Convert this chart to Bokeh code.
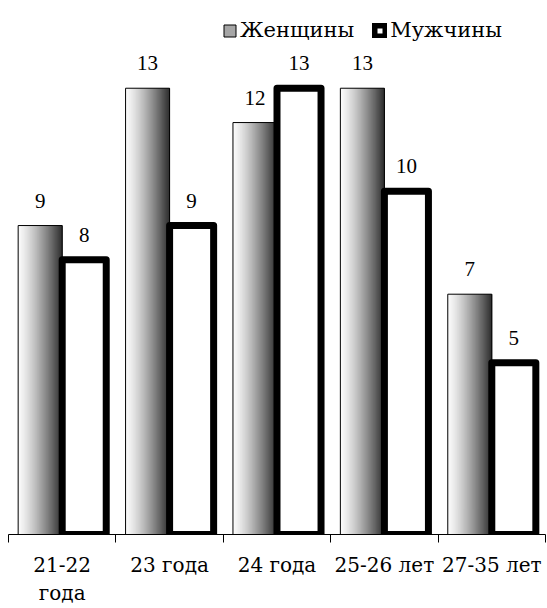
from bokeh.plotting import figure
from bokeh.models import (ColumnDataSource, Range1d, FixedTicker, Legend,
                          LegendItem, LabelSet)
from bokeh.transform import dodge
from bokeh.embed import file_html
from bokeh.resources import INLINE

# Age groups and number of respondents in each group
categories = ["21-22\nгода", "23 года", "24 года", "25-26 лет", "27-35 лет"]
women = [9, 13, 12, 13, 7]
men = [8, 9, 13, 10, 5]
series_names = ["Женщины", "Мужчины"]

positions = list(range(1, len(categories) + 1))
src = ColumnDataSource(dict(
    pos=positions,
    women=women,
    men=men,
    women_txt=[str(v) for v in women],
    men_txt=[str(v) for v in men],
))

BAR_W = 0.41
SERIF = "DejaVu Serif"
SANS = "Roboto"

p = figure(width=547, height=608,
           x_range=Range1d(0.5, len(categories) + 0.5),
           y_range=Range1d(0, 15.41),
           output_backend="svg", toolbar_location=None,
           y_axis_location=None,
           min_border_left=8, min_border_right=2,
           min_border_top=5, min_border_bottom=73)
p.xgrid.visible = False
p.ygrid.visible = False
p.outline_line_color = None
p.background_fill_color = "white"
p.border_fill_color = "white"

# Women: horizontal white-to-dark gradient built from thin vertical strips
N = 44
strip_w = BAR_W / N
mid_strip = None
for i in range(N):
    t = (i + 0.5) / N
    g = int(round(252 - 205 * t ** 1.3))
    color = "#{0:02x}{0:02x}{0:02x}".format(g)
    off = -BAR_W + (i + 0.5) * strip_w
    r = p.vbar(x=dodge("pos", off), top="women", bottom=0, width=strip_w * 1.8,
               source=src, fill_color=color, line_color=None)
    if i == N // 2:
        mid_strip = r

women_outline = p.vbar(x=dodge("pos", -BAR_W / 2), top="women", bottom=0,
                       width=BAR_W, source=src, fill_color=None,
                       line_color="black", line_width=1)

# Men: white bars with a heavy black border
men_r = p.vbar(x=dodge("pos", BAR_W / 2), top="men", bottom=0, width=BAR_W,
               source=src, fill_color="white", line_color="black",
               line_width=7, line_join="round")

# Value labels above the bars
for col, txt, off in (("women", "women_txt", -BAR_W / 2),
                      ("men", "men_txt", BAR_W / 2)):
    p.add_layout(LabelSet(x=dodge("pos", off), y=col, text=txt, source=src,
                          text_align="center", text_baseline="alphabetic",
                          y_offset=18, text_font=SANS,
                          text_font_size="21px", text_color="black"))

# Category axis: labels at group centres, tick marks between groups
ax = p.xaxis[0]
ax.ticker = FixedTicker(ticks=positions,
                        minor_ticks=[x - 0.5 for x in positions] + [positions[-1] + 0.5])
ax.major_label_overrides = {x: c for x, c in zip(positions, categories)}
ax.major_tick_in = 0
ax.major_tick_out = 0
ax.minor_tick_in = 0
ax.minor_tick_out = 8
ax.minor_tick_line_color = "black"
ax.axis_line_color = "black"
ax.major_label_text_font = SERIF
ax.major_label_text_font_size = "20px"
ax.major_label_text_color = "black"
ax.major_label_standoff = 10

legend = Legend(items=[
    LegendItem(label=series_names[0], renderers=[mid_strip, women_outline]),
    LegendItem(label=series_names[1], renderers=[men_r]),
], orientation="horizontal", location=(214, 492),
    label_text_font=SERIF, label_text_font_size="21px",
    label_text_color="black",
    glyph_width=15, glyph_height=15, label_standoff=3, spacing=18,
    border_line_color=None, background_fill_alpha=0, padding=0, margin=0)
p.add_layout(legend)

open("out.html", "w").write(file_html(p, INLINE))
